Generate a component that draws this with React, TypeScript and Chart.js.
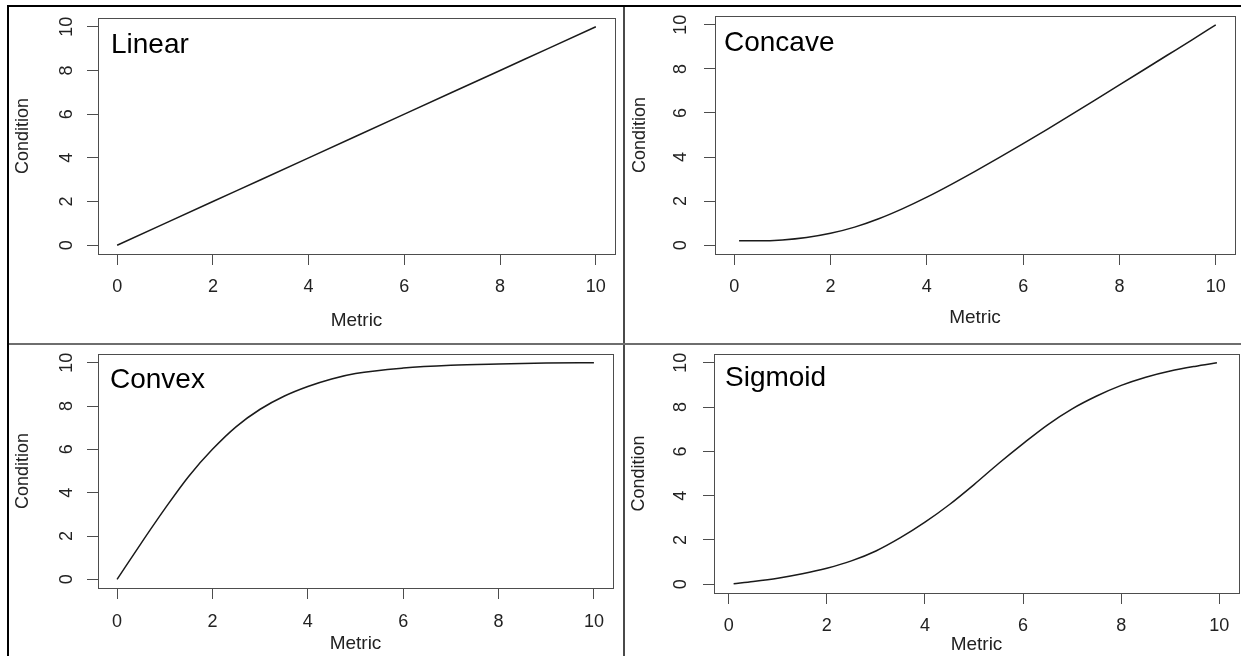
import React, { useEffect, useRef } from "react";
import { Chart, registerables } from "chart.js";

Chart.register(...registerables);

// ---------- data ----------
const xTicks = [0, 2, 4, 6, 8, 10];
const yTicks = [0, 2, 4, 6, 8, 10];

const linearX = [0, 1, 2, 3, 4, 5, 6, 7, 8, 9, 10];
const linearY = [0, 1, 2, 3, 4, 5, 6, 7, 8, 9, 10];

const concaveX = [0.1, 0.5, 1, 1.5, 2, 2.5, 3, 3.5, 4, 4.5, 5, 5.5, 6, 6.5, 7, 7.5, 8, 8.5, 9, 9.5, 10];
const concaveY = [0.2, 0.2, 0.24, 0.35, 0.54, 0.82, 1.2, 1.66, 2.18, 2.75, 3.35, 3.97, 4.61, 5.26, 5.92, 6.59, 7.27, 7.95, 8.63, 9.31, 10.0];

const convexX = [0, 0.5, 1, 1.5, 2, 2.5, 3, 3.5, 4, 4.5, 5, 6, 7, 8, 9, 10];
const convexY = [0, 1.65, 3.25, 4.75, 6.0, 7.05, 7.85, 8.45, 8.9, 9.25, 9.5, 9.75, 9.88, 9.94, 9.98, 10.0];

const sigmoidX = [0.1, 0.5, 1, 1.5, 2, 2.5, 3, 3.5, 4, 4.5, 5, 5.5, 6, 6.5, 7, 7.5, 8, 8.5, 9, 9.5, 9.95];
const sigmoidY = [0.02, 0.12, 0.27, 0.47, 0.72, 1.05, 1.5, 2.1, 2.8, 3.6, 4.5, 5.45, 6.35, 7.2, 7.92, 8.5, 8.98, 9.35, 9.63, 9.84, 10.0];

const panelNames = ["Linear", "Concave", "Convex", "Sigmoid"];
const xTitle = "Metric";
const yTitle = "Condition";

// ---------- layout (positions / styles only) ----------
const FONT = '"Liberation Sans", Arial, sans-serif';

type Layout = {
  left: number; top: number; w: number; h: number;
  pt: number; pr: number; yW: number; xH: number;
  xPad: number; yPad: number; xTitlePad: number; yTitlePad: number;
  xMin: number; xMax: number; yMin: number; yMax: number;
  dx: number; dy: number;
};

const layouts: Layout[] = [
  { left: 10, top: 8, w: 612, h: 334, pt: 10, pr: 7, yW: 88, xH: 88, xPad: 11, yPad: 10, xTitlePad: 10, yTitlePad: 2, xMin: -0.4, xMax: 10.4, yMin: -0.4, yMax: 10.4, dx: 13, dy: 27 },
  { left: 626, top: 8, w: 615, h: 334, pt: 8, pr: 6, yW: 89, xH: 88, xPad: 11, yPad: 13, xTitlePad: 13, yTitlePad: 3, xMin: -0.4, xMax: 10.4, yMin: -0.4, yMax: 10.4, dx: 9, dy: 27 },
  { left: 10, top: 345, w: 612, h: 311, pt: 9, pr: 9, yW: 88, xH: 68, xPad: 12, yPad: 10, xTitlePad: 1, yTitlePad: 2, xMin: -0.4, xMax: 10.4, yMin: -0.4, yMax: 10.4, dx: 12, dy: 26 },
  { left: 626, top: 345, w: 615, h: 311, pt: 9, pr: 2, yW: 88, xH: 63, xPad: 11, yPad: 12, xTitlePad: 0, yTitlePad: 2, xMin: -0.3, xMax: 10.4, yMin: -0.4, yMax: 10.4, dx: 11, dy: 24 },
];

const seriesX = [linearX, concaveX, convexX, sigmoidX];
const seriesY = [linearY, concaveY, convexY, sigmoidY];

const boxPlugin = {
  id: "rbox",
  afterDraw(chart: any, _args: any, opts: any) {
    const { ctx, chartArea: a } = chart;
    ctx.save();
    ctx.strokeStyle = "#4d4d4d";
    ctx.lineWidth = 1;
    ctx.strokeRect(Math.round(a.left) + 0.5, Math.round(a.top) + 0.5, Math.round(a.right - a.left), Math.round(a.bottom - a.top));
    ctx.font = `28px ${FONT}`;
    ctx.fillStyle = "#000";
    ctx.textBaseline = "middle";
    ctx.textAlign = "left";
    ctx.fillText(opts.text, a.left + opts.dx, a.top + opts.dy);
    ctx.restore();
  },
};

function Panel({ idx }: { idx: number }) {
  const ref = useRef<HTMLCanvasElement>(null);
  const L = layouts[idx];
  useEffect(() => {
    const xs = seriesX[idx];
    const ys = seriesY[idx];
    const tickFont = { family: FONT, size: 18 };
    const chart = new Chart(ref.current as HTMLCanvasElement, {
      type: "line",
      data: {
        datasets: [
          {
            data: xs.map((x, i) => ({ x, y: ys[i] })),
            borderColor: "#1a1a1a",
            borderWidth: 1.5,
            pointRadius: 0,
            fill: false,
            cubicInterpolationMode: "monotone",
          } as any,
        ],
      },
      options: {
        animation: false,
        responsive: false,
        events: [],
        layout: { padding: { left: 0, top: L.pt, right: L.pr, bottom: 0 } },
        plugins: {
          legend: { display: false },
          tooltip: { enabled: false },
          rbox: { text: panelNames[idx], dx: L.dx, dy: L.dy },
        } as any,
        scales: {
          x: {
            type: "linear",
            min: L.xMin,
            max: L.xMax,
            afterBuildTicks: (s: any) => {
              s.ticks = xTicks.map((v) => ({ value: v }));
            },
            afterFit: (s: any) => {
              s.height = L.xH;
              s.paddingLeft = 0;
              s.paddingRight = 0;
            },
            grid: { display: true, drawOnChartArea: false, drawTicks: true, tickLength: 11, color: "#4d4d4d", lineWidth: 1 },
            border: { display: false },
            ticks: { padding: L.xPad, color: "#222", font: tickFont, maxRotation: 0, minRotation: 0, autoSkip: false },
            title: { display: true, text: xTitle, color: "#222", font: { family: FONT, size: 19 }, padding: { top: 0, bottom: L.xTitlePad } },
          },
          y: {
            type: "linear",
            min: L.yMin,
            max: L.yMax,
            afterBuildTicks: (s: any) => {
              s.ticks = yTicks.map((v) => ({ value: v }));
            },
            afterFit: (s: any) => {
              s.width = L.yW;
              s.paddingTop = 0;
              s.paddingBottom = 0;
            },
            grid: { display: true, drawOnChartArea: false, drawTicks: true, tickLength: 11, color: "#4d4d4d", lineWidth: 1 },
            border: { display: false },
            ticks: { padding: L.yPad, color: "#222", font: tickFont, minRotation: 90, maxRotation: 90, crossAlign: "center", autoSkip: false },
            title: { display: true, text: yTitle, color: "#222", font: tickFont, padding: { top: L.yTitlePad, bottom: 0 } },
          },
        },
      } as any,
      plugins: [boxPlugin],
    });
    return () => chart.destroy();
  }, [idx]);
  return (
    <canvas
      ref={ref}
      width={L.w}
      height={L.h}
      style={{ position: "absolute", left: L.left, top: L.top, width: L.w, height: L.h }}
    />
  );
}

export default function App() {
  return (
    <div style={{ position: "absolute", left: 0, top: 0, width: 1241, height: 656, overflow: "hidden", background: "#fff" }}>
      <div style={{ position: "absolute", left: 7, top: 5, width: 1234, height: 2, background: "#000" }} />
      <div style={{ position: "absolute", left: 7, top: 5, width: 2, height: 651, background: "#000" }} />
      <div style={{ position: "absolute", left: 623, top: 7, width: 2, height: 649, background: "#4a4a4a" }} />
      <div style={{ position: "absolute", left: 9, top: 343, width: 1232, height: 2, background: "#6e6e6e" }} />
      {[0, 1, 2, 3].map((i) => (
        <Panel key={i} idx={i} />
      ))}
    </div>
  );
}
